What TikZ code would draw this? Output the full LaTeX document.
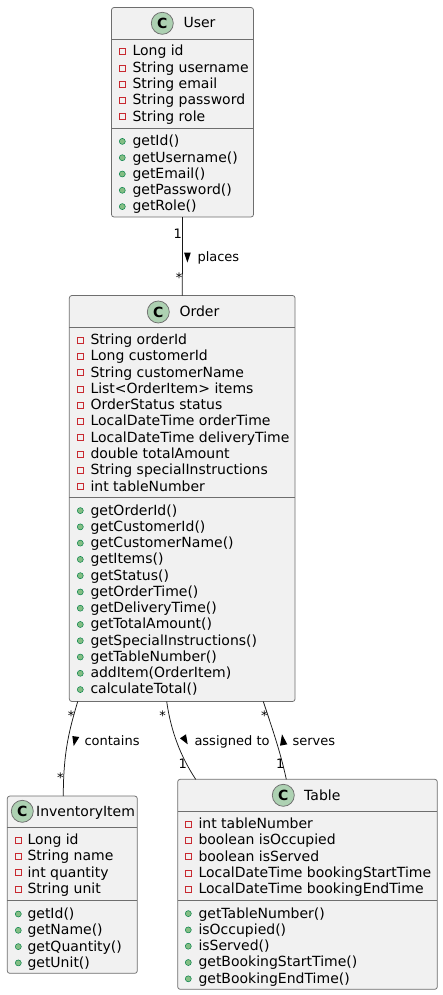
\documentclass[tikz,border=0pt]{standalone}
\usepackage{fontspec}
\setmainfont{DejaVu Sans}
\usepackage{xcolor}
\usetikzlibrary{positioning}
\definecolor{classfill}{RGB}{241,241,241}
\definecolor{classline}{RGB}{110,110,110}
\definecolor{linkline}{RGB}{24,24,24}
\definecolor{spotgreen}{RGB}{173,209,178}
\definecolor{privred}{RGB}{200,41,48}
\definecolor{pubfill}{RGB}{132,190,132}
\definecolor{publine}{RGB}{3,128,72}
\tikzset{
  classbox/.style={rectangle, draw=classline, fill=classfill, rounded corners=2.5pt, line width=0.75pt, inner sep=0pt, outer sep=0pt},
  spot/.style={circle, draw=classline, fill=spotgreen, line width=0.75pt, minimum size=22pt, inner sep=0pt, font=\fontsize{14}{14}\selectfont\bfseries},
  classname/.style={anchor=base west, inner sep=0pt, font=\fontsize{14}{16}\selectfont},
  member/.style={anchor=base west, inner sep=0pt, font=\fontsize{14}{16}\selectfont},
  privmark/.style={rectangle, draw=privred, fill=classfill, line width=0.75pt, minimum size=6pt, inner sep=0pt},
  pubmark/.style={circle, draw=publine, fill=pubfill, line width=0.5pt, minimum size=6pt, inner sep=0pt},
  sepline/.style={draw=classline, line width=0.75pt},
  assoc/.style={draw=linkline, line width=0.75pt},
  linklabel/.style={anchor=base west, inner sep=0pt, font=\fontsize{13}{15}\selectfont},
  mult/.style={inner sep=0pt, font=\fontsize{13}{15}\selectfont},
  dirmark/.style={fill=black},
}
\begin{document}
\begin{tikzpicture}[x=1pt, y=-1pt]
  \useasboundingbox (0,0) rectangle (443,995);

  % Class boxes
  \node[classbox, minimum width=142pt, minimum height=209.5pt] (userbox) at (182.5,112.25) {};
  \node[classbox, minimum width=225.7pt, minimum height=406pt] (orderbox) at (182.2,498.5) {};
  \node[classbox, minimum width=130pt, minimum height=177.3pt] (invbox) at (72.3,884.7) {};
  \node[classbox, minimum width=259.6pt, minimum height=210pt] (tablebox) at (307.5,884.3) {};

  % Connectors
  \draw[assoc] (userbox) -- (orderbox);
  \draw[assoc] (orderbox.south -| 77.7,0) .. controls (70,728) and (63.3,750) .. (invbox.north -| 63.3,0);
  \draw[assoc] (orderbox.south -| 166.7,0) .. controls (171,732) and (181,757) .. (tablebox.north -| 195.7,0);
  \draw[assoc] (orderbox.south -| 263.3,0) .. controls (271,725) and (280,750) .. (tablebox.north -| 286.3,0);

  % Headers
  \node[spot] (userspot) at (162.3,23.3) {C};
  \node[classname] (username) at (183.3,28) {User};
  \draw[sepline] (userbox.west |- 0,39.3) -- (userbox.east |- 0,39.3);
  \draw[sepline] (userbox.west |- 0,128.5) -- (userbox.east |- 0,128.5);
  \node[spot] (orderspot) at (158.3,312) {C};
  \node[classname] (ordername) at (179.3,316) {Order};
  \draw[sepline] (orderbox.west |- 0,327.3) -- (orderbox.east |- 0,327.3);
  \draw[sepline] (orderbox.west |- 0,497.3) -- (orderbox.east |- 0,497.3);
  \node[spot] (invspot) at (22.3,811.3) {C};
  \node[classname] (invname) at (36,816) {InventoryItem};
  \draw[sepline] (invbox.west |- 0,827.3) -- (invbox.east |- 0,827.3);
  \draw[sepline] (invbox.west |- 0,900.3) -- (invbox.east |- 0,900.3);
  \node[spot] (tablespot) at (283.3,795.3) {C};
  \node[classname] (tablename) at (304,800) {Table};
  \draw[sepline] (tablebox.west |- 0,811.3) -- (tablebox.east |- 0,811.3);
  \draw[sepline] (tablebox.west |- 0,900.3) -- (tablebox.east |- 0,900.3);

  % User members
  \foreach \txt [count=\n from 0] in {Long id, String username, String email, String password, String role} {
    \node[privmark] (ua\n) at (122.3,51.6+16.3*\n) {};
    \node[member] (uat\n) at (132.3,56+16.3*\n) {\txt};
  }
  \foreach \txt [count=\n from 0] in {getId(), getUsername(), getEmail(), getPassword(), getRole()} {
    \node[pubmark] (um\n) at (122.3,141.4+16.3*\n) {};
    \node[member] (umt\n) at (132.3,145.8+16.3*\n) {\txt};
  }

  % Order members
  \foreach \txt [count=\n from 0] in {String orderId, Long customerId, String customerName, List<OrderItem> items, OrderStatus status, LocalDateTime orderTime, LocalDateTime deliveryTime, double totalAmount, String specialInstructions, int tableNumber} {
    \node[privmark] (oa\n) at (80.3,340+16.3*\n) {};
    \node[member] (oat\n) at (90.3,344.4+16.3*\n) {\txt};
  }
  \foreach \txt [count=\n from 0] in {getOrderId(), getCustomerId(), getCustomerName(), getItems(), getStatus(), getOrderTime(), getDeliveryTime(), getTotalAmount(), getSpecialInstructions(), getTableNumber(), addItem(OrderItem), calculateTotal()} {
    \node[pubmark] (om\n) at (80.3,510.6+16.27*\n) {};
    \node[member] (omt\n) at (90.3,515+16.27*\n) {\txt};
  }

  % InventoryItem members
  \foreach \txt [count=\n from 0] in {Long id, String name, int quantity, String unit} {
    \node[privmark] (ia\n) at (18.3,840+16.3*\n) {};
    \node[member] (iat\n) at (27.3,844.4+16.3*\n) {\txt};
  }
  \foreach \txt [count=\n from 0] in {getId(), getName(), getQuantity(), getUnit()} {
    \node[pubmark] (im\n) at (18.3,914+16.3*\n) {};
    \node[member] (imt\n) at (27.3,918.4+16.3*\n) {\txt};
  }

  % Table members
  \foreach \txt [count=\n from 0] in {int tableNumber, boolean isOccupied, boolean isServed, LocalDateTime bookingStartTime, LocalDateTime bookingEndTime} {
    \node[privmark] (ta\n) at (188.3,824+16.3*\n) {};
    \node[member] (tat\n) at (198.3,828.4+16.3*\n) {\txt};
  }
  \foreach \txt [count=\n from 0] in {getTableNumber(), isOccupied(), isServed(), getBookingStartTime(), getBookingEndTime()} {
    \node[pubmark] (tm\n) at (188.3,913.6+16.3*\n) {};
    \node[member] (tmt\n) at (198.3,918+16.3*\n) {\txt};
  }

  % Connector labels
  \node[linklabel] (placeslabel) at (197.3,261) {places};
  \node[linklabel] (containslabel) at (84.3,745) {contains};
  \node[linklabel] (assignedlabel) at (194.3,745) {assigned to};
  \node[linklabel] (serveslabel) at (292.3,745) {serves};

  % Direction marks
  \fill[dirmark] (184,252.5) -- (190.8,252.5) -- (187.4,262.5) -- cycle;
  \fill[dirmark] (72.3,736) -- (79.3,737) -- (73.7,746) -- cycle;
  \fill[dirmark] (186,734.3) -- (187.7,744.3) -- (180,738.3) -- cycle;
  \fill[dirmark] (282,734.3) -- (287.3,744.3) -- (280,745.7) -- cycle;

  % Multiplicities
  \node[mult] (m1) at (177.7,233.5) {1};
  \node[mult] (m2) at (179,278) {*};
  \node[mult] (m3) at (71,716) {*};
  \node[mult] (m4) at (60.3,777.7) {*};
  \node[mult] (m5) at (162.7,716) {*};
  \node[mult] (m6) at (182.7,763.3) {1};
  \node[mult] (m7) at (264.3,716) {*};
  \node[mult] (m8) at (280.3,763.3) {1};
\end{tikzpicture}
\end{document}
